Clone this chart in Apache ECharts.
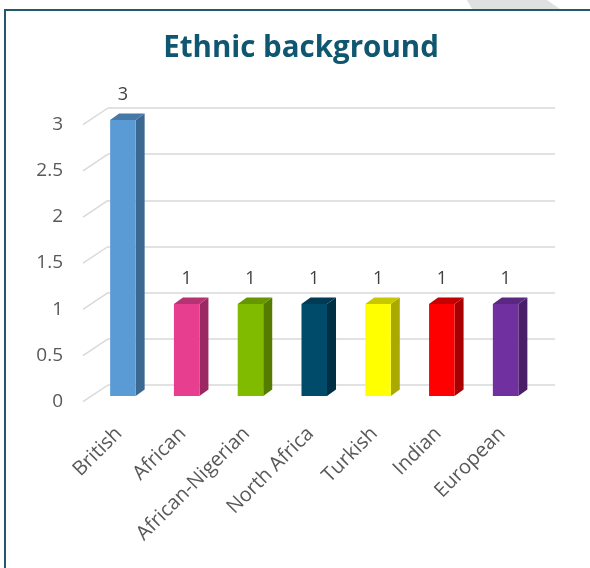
<!DOCTYPE html>
<html>
<head>
<meta charset="utf-8">
<script src="https://cdn.jsdelivr.net/npm/echarts@6/dist/echarts.min.js"></script>
<style>
html,body{margin:0;padding:0;background:#fff;}
#chart{width:590px;height:568px;}
</style>
</head>
<body>
<div id="chart"></div>
<script>
const categories = ['British','African','African-Nigerian','North Africa','Turkish','Indian','European'];
const values = [3,1,1,1,1,1,1];
const yTicks = [0,0.5,1,1.5,2,2.5,3];
const frontColors = ['#5b9bd5','#e83e8f','#80bb00','#004a6a','#ffff00','#ff0000','#7030a0'];
const sideColors  = ['#3b6890','#9a2862','#557c00','#002f44','#a9a900','#a80000','#4a1f6a'];
const topColors   = ['#4878a5','#b53273','#669600','#003a54','#c8c800','#c40000','#5a2783'];

const chart = echarts.init(document.getElementById('chart'), null, {renderer:'canvas'});
const DX = 9, DY = -6.5;

const option = {
  animation:false,
  backgroundColor:'#fff',
  title:{
    text:'Ethnic background',
    left:296, textAlign:'center', top:29,
    textStyle:{fontFamily:'Open Sans', fontWeight:'bold', fontSize:29.5, color:'#0f5670'}
  },
  graphic:[
    {type:'polygon', shape:{points:[[467,0],[547,0],[560,9],[472,9]]}, style:{fill:'#e0e0e0'}, z:-1},
    {type:'rect', shape:{x:5, y:10, width:700, height:700}, style:{fill:null, stroke:'#23596b', lineWidth:2}, z:-1}
  ],
  grid:[
    {left:83, right:60, top:124.5, bottom:166.5},   // front plane (y labels)
    {left:108, right:35, top:108, bottom:183},      // back wall (gridlines)
    {left:91, right:52.5, top:120, bottom:172},     // bar front faces
    {left:87, right:56, top:124.5, bottom:166.5}    // x labels
  ],
  xAxis:[
    {gridIndex:0, type:'category', data:categories, show:false},
    {gridIndex:1, type:'value', min:0, max:1, show:false},
    {gridIndex:2, type:'category', data:categories, show:false},
    {gridIndex:3, type:'category', data:categories, axisLine:{show:false}, axisTick:{show:false},
     axisLabel:{rotate:45, margin:29, interval:0, fontFamily:'Open Sans', fontSize:20, color:'#595959'}}
  ],
  yAxis:[
    {gridIndex:0, type:'value', min:0, max:3, interval:0.5, axisLine:{show:false}, axisTick:{show:false},
     splitLine:{show:false},
     axisLabel:{margin:20, fontFamily:'Open Sans', fontSize:19, color:'#595959'}},
    {gridIndex:1, type:'value', min:0, max:3, interval:0.5, axisLine:{show:false}, axisTick:{show:false},
     axisLabel:{show:false}, splitLine:{lineStyle:{color:'#d9d9d9', width:1.5}}},
    {gridIndex:2, type:'value', min:0, max:3, show:false},
    {gridIndex:3, type:'value', min:0, max:3, show:false}
  ],
  series:[
    {
      type:'custom', xAxisIndex:1, yAxisIndex:1,
      data: yTicks.map(v=>[0,v]),
      renderItem:function(params, api){
        const p = api.coord([0, api.value(1)]);
        return {type:'line', shape:{x1:p[0], y1:p[1], x2:p[0]-25, y2:p[1]+16.7},
                style:{stroke:'#d9d9d9', lineWidth:1.5}};
      }
    },
    {
      type:'custom', xAxisIndex:2, yAxisIndex:2,
      data: values.map((v,i)=>[i,v]),
      renderItem:function(params, api){
        const i = params.dataIndex;
        const v = api.value(1);
        const p0 = api.coord([api.value(0), 0]);
        const p1 = api.coord([api.value(0), v]);
        const bw = api.size([1,0])[0]*0.4;
        const x0 = p1[0]-bw/2, x1 = p1[0]+bw/2, yT = p1[1], yB = p0[1];
        return {type:'group', children:[
          {type:'polygon', shape:{points:[[x1,yB],[x1+DX,yB+DY],[x1+DX,yT+DY],[x1,yT]]}, style:{fill:sideColors[i]}},
          {type:'polygon', shape:{points:[[x0,yT],[x1,yT],[x1+DX,yT+DY],[x0+DX,yT+DY]]}, style:{fill:topColors[i]}},
          {type:'rect', shape:{x:x0, y:yT, width:bw, height:yB-yT}, style:{fill:frontColors[i]}},
          {type:'text', style:{text:String(v), x:p1[0], y:yT-25, align:'center', verticalAlign:'middle',
            fontFamily:'Open Sans', fontSize:18, fill:'#404040'}}
        ]};
      }
    }
  ]
};
chart.setOption(option);
</script>
</body>
</html>
